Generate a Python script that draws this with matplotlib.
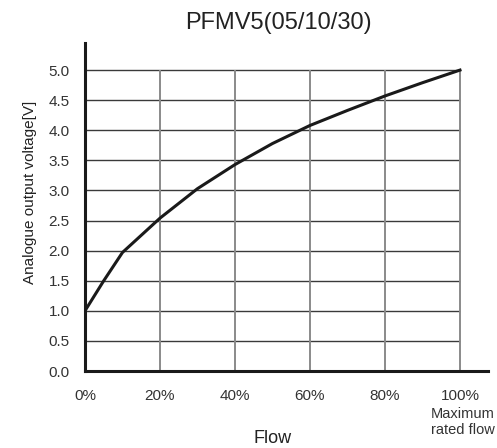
import matplotlib
matplotlib.use("Agg")
import matplotlib.pyplot as plt
import matplotlib.transforms as mtrans

plt.rcParams['font.family'] = ['Liberation Sans', 'DejaVu Sans']

# Data
flow_pct = [0, 5, 10, 20, 30, 40, 50, 60, 70, 80, 90, 100]
voltage = [1.0, 1.5, 1.97, 2.54, 3.03, 3.43, 3.78, 4.08, 4.33, 4.57, 4.79, 5.0]
x_ticks = [0, 20, 40, 60, 80, 100]
x_tick_labels = ['0%', '20%', '40%', '60%', '80%', '100%']
y_ticks = [0.0, 0.5, 1.0, 1.5, 2.0, 2.5, 3.0, 3.5, 4.0, 4.5, 5.0]
y_tick_labels = ['%.1f' % v for v in y_ticks]
title = 'PFMV5(05/10/30)'
xlabel = 'Flow'
ylabel = 'Analogue output voltage[V]'
max_note = 'Maximum\nrated flow'

W, H = 497, 448
fig = plt.figure(figsize=(W / 100, H / 100), dpi=100)
ax = fig.add_axes([85 / W, 1 - 371 / H, 403 / W, 328 / H])

ax.set_xlim(0, 107.47)
ax.set_ylim(0, 5.45)

# grid lines limited to the data range
ax.hlines(y_ticks[1:], 0, 100, colors='#3a3a3a', linewidth=1.0, zorder=1)
ax.vlines(x_ticks[1:], 0, 5.0, colors='#8a8a8a', linewidth=1.4, zorder=1)

ax.plot(flow_pct, voltage, color='#1a1a1a', linewidth=2.2, zorder=3,
        solid_joinstyle='round')

for s in ['top', 'right']:
    ax.spines[s].set_visible(False)
for s in ['left', 'bottom']:
    ax.spines[s].set_linewidth(2.2)
    ax.spines[s].set_color('#1a1a1a')

ax.set_xticks(x_ticks)
ax.set_xticklabels(x_tick_labels)
ax.set_yticks(y_ticks)
ax.set_yticklabels(y_tick_labels)
ax.tick_params(axis='both', length=0, labelsize=11, labelcolor='#333333')
ax.tick_params(axis='x', pad=13)
ax.tick_params(axis='y', pad=11)

trans = mtrans.blended_transform_factory(ax.transData, fig.transFigure)
ax.text(100.8, 1 - 422 / H, max_note, transform=trans, ha='center', va='center',
        fontsize=10.5, color='#333333', linespacing=1.2)
ax.text(50, 1 - 438 / H, xlabel, transform=trans, ha='center', va='center',
        fontsize=13, color='#222222')

fig.text(30 / W, 1 - 192.5 / H, ylabel, rotation=90, ha='center', va='center',
         fontsize=11, color='#222222')
fig.text(278 / W, 1 - 23 / H, title, ha='center', va='center',
         fontsize=17, color='#222222')

fig.savefig('out.png', dpi=100)
